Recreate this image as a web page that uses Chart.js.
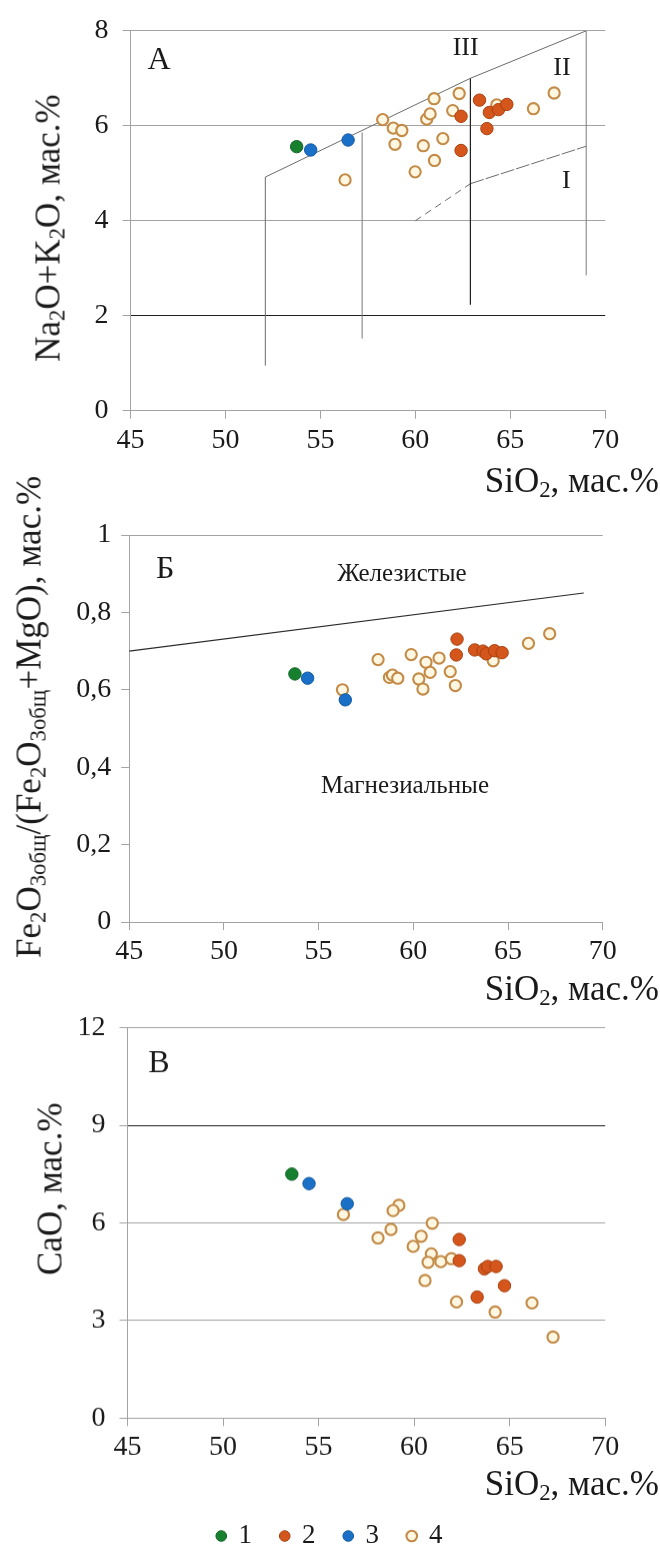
<!DOCTYPE html>
<html><head><meta charset="utf-8">
<script src="https://cdn.jsdelivr.net/npm/chart.js@4.4.1/dist/chart.umd.min.js"></script>
<style>
html,body{margin:0;padding:0;background:#fff;}
body{width:660px;height:1546px;position:relative;overflow:hidden;font-family:"Liberation Serif","Times New Roman",serif;color:#1a1a1a;}
.panel{position:absolute;left:0;width:660px;}
.xt{position:absolute;right:1px;font-size:35px;white-space:nowrap;line-height:1;transform:translateY(-50%);}
.yt{position:absolute;font-size:35px;white-space:nowrap;line-height:1;transform:translate(-50%,-50%) rotate(-90deg);}
sub{font-size:0.65em;vertical-align:-0.22em;line-height:0;}
</style></head><body>
<div class="panel" style="top:0;height:460px"><canvas id="cA"></canvas></div>
<div class="panel" style="top:500px;height:470px"><canvas id="cB"></canvas></div>
<div class="panel" style="top:990px;height:568.5px"><canvas id="cC"></canvas></div>

<div class="xt" style="top:480px">SiO<sub>2</sub>, мас.%</div>
<div class="xt" style="top:988px">SiO<sub>2</sub>, мас.%</div>
<div class="xt" style="top:1483px">SiO<sub>2</sub>, мас.%</div>
<div class="yt" style="left:48px;top:228px">Na<sub>2</sub>O+K<sub>2</sub>O, мас.%</div>
<div class="yt" style="left:29px;top:717px">Fe<sub>2</sub>O<sub>3общ</sub>/(Fe<sub>2</sub>O<sub>3общ</sub>+MgO), мас.%</div>
<div class="yt" style="left:50px;top:1189px">CaO, мас.%</div>

<script>
// ---------- DATA ----------
const groupNames = ['1', '2', '3', '4'];
const siTicks = [45, 50, 55, 60, 65, 70];

// Panel А: Na2O+K2O vs SiO2
const a_g1_si = [53.75];
const a_g1_v  = [5.56];
const a_g2_si = [62.41, 62.41, 63.38, 63.77, 63.90, 64.38, 64.82];
const a_g2_v  = [6.20, 5.48, 6.54, 5.94, 6.28, 6.34, 6.45];
const a_g3_si = [54.49, 56.46];
const a_g3_v  = [5.49, 5.70];
const a_g4_si = [56.30, 58.28, 58.84, 59.29, 58.93, 59.99, 60.42, 60.60, 60.78, 60.99, 61.01, 61.45, 61.97, 62.31, 64.29, 66.22, 67.31];
const a_g4_v  = [4.86, 6.13, 5.95, 5.90, 5.61, 5.03, 5.58, 6.14, 6.25, 6.57, 5.27, 5.73, 6.32, 6.68, 6.44, 6.36, 6.69];
const a_yTicks = [0, 2, 4, 6, 8];
// field boundaries (panel А)
const a_bound1_si = [52.1, 52.1, 62.9, 69.0];
const a_bound1_v  = [0.95, 4.92, 7.0, 8.0];
const a_bound2_si = [57.2, 57.2];
const a_bound2_v  = [1.52, 5.86];
const a_bound3_si = [62.9, 62.9];
const a_bound3_v  = [2.23, 7.0];
const a_bound4_si = [69.0, 69.0];
const a_bound4_v  = [2.85, 8.0];
const a_lowDash_si = [60.0, 62.9];
const a_lowDash_v  = [4.0, 4.78];
const a_lowSolid_si = [62.9, 69.0];
const a_lowSolid_v  = [4.78, 5.57];

// Panel Б: Fe2O3общ/(Fe2O3общ+MgO) vs SiO2
const b_g1_si = [53.75];
const b_g1_v  = [0.641];
const b_g2_si = [62.31, 62.27, 63.24, 63.68, 63.85, 64.29, 64.69];
const b_g2_v  = [0.731, 0.690, 0.703, 0.700, 0.693, 0.701, 0.696];
const b_g3_si = [54.42, 56.41];
const b_g3_v  = [0.630, 0.574];
const b_g4_si = [56.26, 58.14, 58.74, 58.90, 59.18, 59.89, 60.29, 60.51, 60.67, 60.89, 61.36, 61.95, 62.22, 64.22, 66.08, 67.20];
const b_g4_v  = [0.600, 0.678, 0.632, 0.638, 0.630, 0.691, 0.628, 0.602, 0.671, 0.645, 0.682, 0.647, 0.611, 0.675, 0.720, 0.745];
const b_yTicks = [0, 0.2, 0.4, 0.6, 0.8, 1];
const b_divide_si = [45, 69];
const b_divide_v  = [0.70, 0.85];

// Panel В: CaO vs SiO2
const c_g1_si = [53.60];
const c_g1_v  = [7.50];
const c_g2_si = [62.36, 62.36, 63.30, 63.68, 63.85, 64.29, 64.73];
const c_g2_v  = [5.49, 4.84, 3.72, 4.59, 4.66, 4.66, 4.07];
const c_g3_si = [54.50, 56.50];
const c_g3_v  = [7.21, 6.59];
const c_g4_si = [56.30, 59.20, 58.90, 60.95, 58.79, 58.11, 60.37, 59.95, 60.90, 60.73, 61.40, 61.95, 60.57, 62.22, 64.24, 66.17, 67.27];
const c_g4_v  = [6.26, 6.54, 6.38, 5.99, 5.80, 5.54, 5.59, 5.28, 5.05, 4.79, 4.81, 4.90, 4.23, 3.57, 3.26, 3.54, 2.49];
const c_yTicks = [0, 3, 6, 9, 12];

// ---------- helpers ----------
const FONT = '"Liberation Serif","Times New Roman",serif';
const TXT = '#1a1a1a';
const GRID = '#a3a3a3';
const DARK = '#1e1e1e';
const pts = (xs, ys) => xs.map((x, i) => ({x, y: ys[i]}));

const styles = [
  {bg:'#17802f', bd:'#10652a', bw:1, r:6.2},
  {bg:'#d4561c', bd:'#a8410f', bw:1, r:6.2},
  {bg:'#1a6fc6', bd:'#135aa3', bw:1, r:6.2},
  {bg:'#fff7e2', bd:'#c38b47', bw:2.1, r:5.6}
];
function groupSets(groups) {
  return groups.map((g, i) => ({
    label: groupNames[i], data: pts(g[0], g[1]),
    backgroundColor: styles[i].bg, borderColor: styles[i].bd, borderWidth: styles[i].bw,
    pointRadius: styles[i].r, pointHoverRadius: styles[i].r, pointStyle: 'circle', showLine: false
  }));
}
function lineSet(xs, ys, color, width, dash) {
  return {label: '', data: pts(xs, ys), showLine: true, pointRadius: 0, pointHoverRadius: 0,
    borderColor: color, borderWidth: width, borderDash: dash || [], fill: false};
}
const textPlugin = {
  id: 'txt',
  afterDatasetsDraw(chart, args, opts) {
    const {ctx} = chart; const x = chart.scales.x, y = chart.scales.y;
    (opts.items || []).forEach(it => {
      ctx.save();
      ctx.font = it.size + 'px ' + FONT;
      ctx.fillStyle = TXT; ctx.textAlign = 'center'; ctx.textBaseline = 'middle';
      ctx.fillText(it.text, x.getPixelForValue(it.x), y.getPixelForValue(it.y));
      ctx.restore();
    });
  }
};
function fmt(v) {
  if (Math.abs(v - Math.round(v)) < 1e-9) return String(Math.round(v));
  return v.toFixed(1).replace('.', ',');
}
function makeChart(id, o) {
  return new Chart(document.getElementById(id), {
    type: 'scatter',
    data: {datasets: o.datasets},
    plugins: [textPlugin],
    options: {
      responsive: true, maintainAspectRatio: false, animation: false, devicePixelRatio: 1,
      layout: {padding: {top: o.top, left: 0, right: 0, bottom: 0}},
      plugins: {
        tooltip: {enabled: false},
        legend: o.legend || {display: false},
        txt: {items: o.texts}
      },
      scales: {
        x: {
          type: 'linear', min: 45, max: 70,
          afterBuildTicks: s => { s.ticks = siTicks.map(v => ({value: v})); },
          ticks: {font: {family: FONT, size: 28}, color: TXT, padding: 5, callback: v => fmt(v)},
          grid: {drawOnChartArea: false, drawTicks: true, tickLength: 8, color: GRID},
          border: {color: GRID, width: 1},
          afterFit: s => { s.height = o.xH; }
        },
        y: {
          type: 'linear', min: o.yMin, max: o.yMax,
          afterBuildTicks: s => { s.ticks = o.yTicks.map(v => ({value: v})); },
          ticks: {font: {family: FONT, size: 28}, color: TXT, padding: o.yPad, callback: v => fmt(v)},
          grid: {color: o.gridColor, tickColor: GRID, tickLength: 8, lineWidth: 1},
          border: {color: GRID, width: 1},
          afterFit: s => { s.width = o.left; }
        },
        r: {
          type: 'linear', position: 'right', display: true,
          ticks: {display: false}, grid: {display: false}, border: {display: false},
          afterFit: s => { s.width = 660 - o.right; }
        }
      }
    }
  });
}

// ---------- Panel А ----------
makeChart('cA', {
  top: 24, left: 130.5, right: 605.2, xH: 49.3, yMin: 0, yMax: 8, yTicks: a_yTicks, yPad: 14,
  gridColor: c => (c.tick && c.tick.value === 2) ? DARK : GRID,
  datasets: [
    ...groupSets([[a_g1_si, a_g1_v], [a_g2_si, a_g2_v], [a_g3_si, a_g3_v], [a_g4_si, a_g4_v]]),
    lineSet(a_bound1_si, a_bound1_v, '#6a6a6a', 1),
    lineSet(a_bound2_si, a_bound2_v, '#7a7a7a', 1),
    lineSet(a_bound3_si, a_bound3_v, '#1e1e1e', 1.2),
    lineSet(a_bound4_si, a_bound4_v, '#7a7a7a', 1),
    lineSet(a_lowDash_si, a_lowDash_v, '#6a6a6a', 1, [7, 5]),
    lineSet(a_lowSolid_si, a_lowSolid_v, '#6a6a6a', 1, [14, 2])
  ],
  texts: [
    {text: 'А', x: 46.5, y: 7.38, size: 32},
    {text: 'III', x: 62.65, y: 7.63, size: 26},
    {text: 'II', x: 67.72, y: 7.22, size: 26},
    {text: 'I', x: 67.95, y: 4.84, size: 26}
  ]
});

// ---------- Panel Б ----------
makeChart('cB', {
  top: 35, left: 129.2, right: 602.7, xH: 48, yMin: 0, yMax: 1, yTicks: b_yTicks, yPad: 10,
  gridColor: c => (c.tick && Math.abs(c.tick.value - 1) < 1e-9) ? GRID : 'rgba(0,0,0,0)',
  datasets: [
    ...groupSets([[b_g1_si, b_g1_v], [b_g2_si, b_g2_v], [b_g3_si, b_g3_v], [b_g4_si, b_g4_v]]),
    lineSet(b_divide_si, b_divide_v, '#2a2a2a', 1.1)
  ],
  texts: [
    {text: 'Б', x: 46.9, y: 0.91, size: 32},
    {text: 'Железистые', x: 59.4, y: 0.897, size: 25},
    {text: 'Магнезиальные', x: 59.56, y: 0.351, size: 25}
  ]
});

// ---------- Panel В ----------
makeChart('cC', {
  top: 37.7, left: 127.5, right: 605.2, xH: 75.2, yMin: 0, yMax: 12, yTicks: c_yTicks, yPad: 14,
  gridColor: c => (c.tick && c.tick.value === 9) ? DARK : GRID,
  datasets: groupSets([[c_g1_si, c_g1_v], [c_g2_si, c_g2_v], [c_g3_si, c_g3_v], [c_g4_si, c_g4_v]]),
  texts: [
    {text: 'В', x: 46.65, y: 10.9, size: 32}
  ],
  legend: {
    display: true, position: 'bottom',
    labels: {usePointStyle: true, boxHeight: 7.5, boxWidth: 7.5, padding: 29,
      font: {family: FONT, size: 27}, color: TXT}
  }
});
</script>
</body></html>
